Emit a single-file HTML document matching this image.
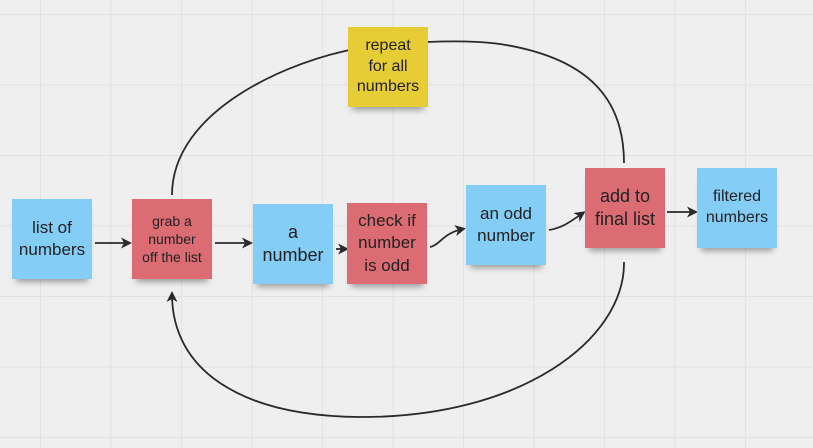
<!DOCTYPE html>
<html><head><meta charset="utf-8"><style>
body{margin:0;width:813px;height:448px;overflow:hidden;background:#efefef;font-family:"Liberation Sans","DejaVu Sans",sans-serif;}
.g{position:absolute;left:0;top:0;width:813px;height:448px;
background-image:linear-gradient(to right,#e2e2e2 1px,transparent 1px),linear-gradient(to bottom,#e2e2e2 1px,transparent 1px);
background-size:70.5px 70.5px;background-position:40px 14px;}
.n{position:absolute;width:80px;height:80px;display:flex;align-items:center;justify-content:center;text-align:center;color:#222;box-shadow:0 7px 6px -4px rgba(0,0,0,0.35);line-height:1.3;}
.b{background:#83cdf6;}
.r{background:#db6c74;}
.y{background:#e7cd35;}
svg{position:absolute;left:0;top:0;}
</style></head><body>
<div class="g"></div>
<svg width="813" height="448">
<defs><marker id="a" markerWidth="11" markerHeight="11" refX="8" refY="5.5" orient="auto" markerUnits="userSpaceOnUse"><path d="M0,0 L11,5.5 L0,11 L3,5.5 z" fill="#2a2a2a"/></marker></defs>
<g fill="none" stroke="#2a2a2a" stroke-width="1.8">
<path d="M172,195 C172,110 290,60 360,48 C420,40 470,40 500,44 C590,58 624,100 624,163"/>
<path d="M624,262 C625,340 520,418 360,417 C240,416 172,370 172,294" marker-end="url(#a)"/>
<path d="M95,243 L129,243" marker-end="url(#a)"/>
<path d="M215,243 L250,243" marker-end="url(#a)"/>
<path d="M336,249 L346,249" marker-end="url(#a)"/>
<path d="M430,247 C440,245 443,233 463,229" marker-end="url(#a)"/>
<path d="M549,230 C562,228 570,222 583,213" marker-end="url(#a)"/>
<path d="M667,212 L695,212" marker-end="url(#a)"/>
</g>
</svg>
<div class="n b" style="left:12px;top:199px;font-size:17px">list of<br>numbers</div>
<div class="n r" style="left:132px;top:199px;font-size:14px">grab a<br>number<br>off the list</div>
<div class="n b" style="left:253px;top:204px;font-size:18px">a<br>number</div>
<div class="n r" style="left:347px;top:203px;font-size:17px;height:81px">check if<br>number<br>is odd</div>
<div class="n b" style="left:466px;top:185px;font-size:17px">an odd<br>number</div>
<div class="n r" style="left:585px;top:168px;font-size:18px">add to<br>final list</div>
<div class="n b" style="left:697px;top:168px;font-size:16px">filtered<br>numbers</div>
<div class="n y" style="left:348px;top:27px;font-size:16px">repeat<br>for all<br>numbers</div>
</body></html>
